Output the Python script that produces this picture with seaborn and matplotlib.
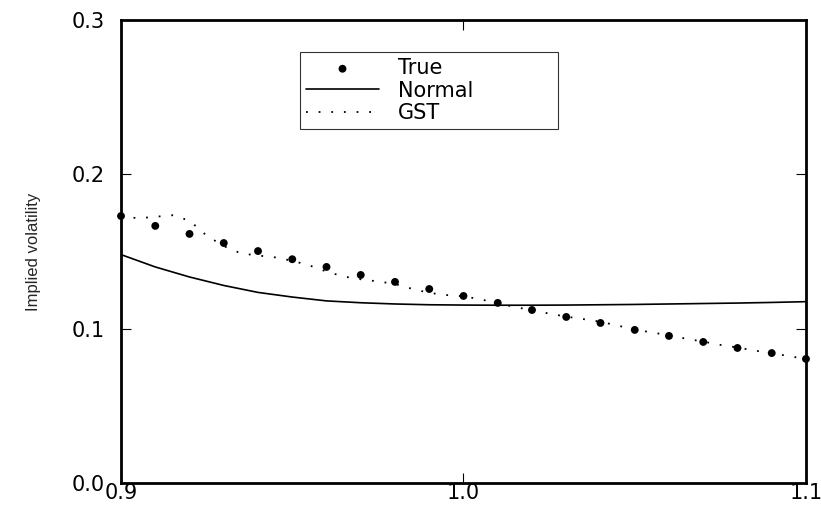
import numpy as np
import pandas as pd
import seaborn as sns
from matplotlib import pyplot as plt
from matplotlib import font_manager

# strike / moneyness grid for the observed ("true") implied vols
strikes = [0.90, 0.91, 0.92, 0.93, 0.94, 0.95, 0.96, 0.97, 0.98, 0.99, 1.00,
           1.01, 1.02, 1.03, 1.04, 1.05, 1.06, 1.07, 1.08, 1.09, 1.10]
true_vol = [0.173, 0.1666, 0.1614, 0.1555, 0.1503, 0.145, 0.140, 0.1348, 0.1303,
            0.1257, 0.1212, 0.1167, 0.1121, 0.1076, 0.1037, 0.0992, 0.0953,
            0.0914, 0.0875, 0.0842, 0.0804]
normal_vol = [0.148, 0.140, 0.1335, 0.128, 0.1235, 0.1205, 0.118, 0.1168, 0.116,
              0.1155, 0.1153, 0.1152, 0.1152, 0.1153, 0.1155, 0.1157, 0.116,
              0.1163, 0.1166, 0.117, 0.1175]

# GST fit on a finer grid
gst_strikes = [0.900, 0.905, 0.910, 0.915, 0.920, 0.925, 0.930, 0.935, 0.940,
               0.945, 0.950, 0.955, 0.960, 0.965, 0.970, 0.975, 0.980, 0.985,
               0.990, 0.995, 1.000, 1.005, 1.010, 1.015, 1.020, 1.025, 1.030,
               1.035, 1.040, 1.045, 1.050, 1.055, 1.060, 1.065, 1.070, 1.075,
               1.080, 1.085, 1.090, 1.095, 1.100]
gst_vol = [0.1730, 0.1715, 0.1725, 0.1735, 0.1700, 0.1603, 0.1535, 0.1488, 0.1474,
           0.1462, 0.1440, 0.1410, 0.1370, 0.1338, 0.1320, 0.1306, 0.1290, 0.1258,
           0.1232, 0.1218, 0.1210, 0.1190, 0.1165, 0.1140, 0.1120, 0.1098, 0.1078,
           0.1062, 0.1045, 0.1020, 0.0995, 0.0975, 0.0958, 0.0935, 0.0916, 0.0895,
           0.0878, 0.0858, 0.0842, 0.0822, 0.0804]

sns.set_style('white')
plt.rcParams['font.family'] = ['DejaVu Sans']
plt.rcParams['text.color'] = 'black'
plt.rcParams['xtick.color'] = 'black'
plt.rcParams['ytick.color'] = 'black'

installed = {f.name for f in font_manager.fontManager.ttflist}
label_font = 'Liberation Sans Narrow' if 'Liberation Sans Narrow' in installed else 'Liberation Sans'

df = pd.DataFrame({'strike': strikes, 'true': true_vol, 'normal': normal_vol})
gst = pd.DataFrame({'strike': gst_strikes, 'gst': gst_vol})

fig = plt.figure(figsize=(8.21, 5.08), dpi=100)
ax = fig.add_axes([0.1474, 0.0492, 0.8343, 0.9114])

sns.scatterplot(data=df, x='strike', y='true', ax=ax, color='black', s=32,
                marker='o', edgecolor='none', label='True', zorder=3, clip_on=False)
sns.lineplot(data=df, x='strike', y='normal', ax=ax, color='black', lw=1.2,
             label='Normal')
sns.lineplot(data=gst, x='strike', y='gst', ax=ax, color='black', lw=1.3,
             linestyle=(0, (1, 6)), label='GST')

ax.set_xlim(0.9, 1.1)
ax.set_ylim(0.0, 0.3)
ax.set_xticks([0.9, 1.0, 1.1])
ax.set_yticks([0.0, 0.1, 0.2, 0.3])
ax.set_xticklabels(['0.9', '1.0', '1.1'])
ax.set_yticklabels(['0.0', '0.1', '0.2', '0.3'])
ax.tick_params(direction='in', length=7, width=0.8, labelsize=15,
               top=True, right=True, bottom=True, left=True)
ax.tick_params(axis='y', pad=12)
ax.tick_params(axis='x', pad=0)
for sp in ax.spines.values():
    sp.set_visible(True)
    sp.set_color('black')
    sp.set_linewidth(2)

ax.set_xlabel('')
ax.set_ylabel('Implied volatility', family=[label_font, 'DejaVu Sans'],
              fontsize=12, labelpad=22)

leg = ax.legend(loc='upper left', bbox_to_anchor=(0.261, 0.747, 0.377, 0.184),
                mode='expand', fontsize=15, frameon=True, fancybox=False,
                borderpad=0.3, labelspacing=0.12, handlelength=3.5,
                handletextpad=0.9, borderaxespad=0)
leg.get_frame().set_edgecolor('black')
leg.get_frame().set_linewidth(0.8)

fig.savefig('out.png', dpi=100)
